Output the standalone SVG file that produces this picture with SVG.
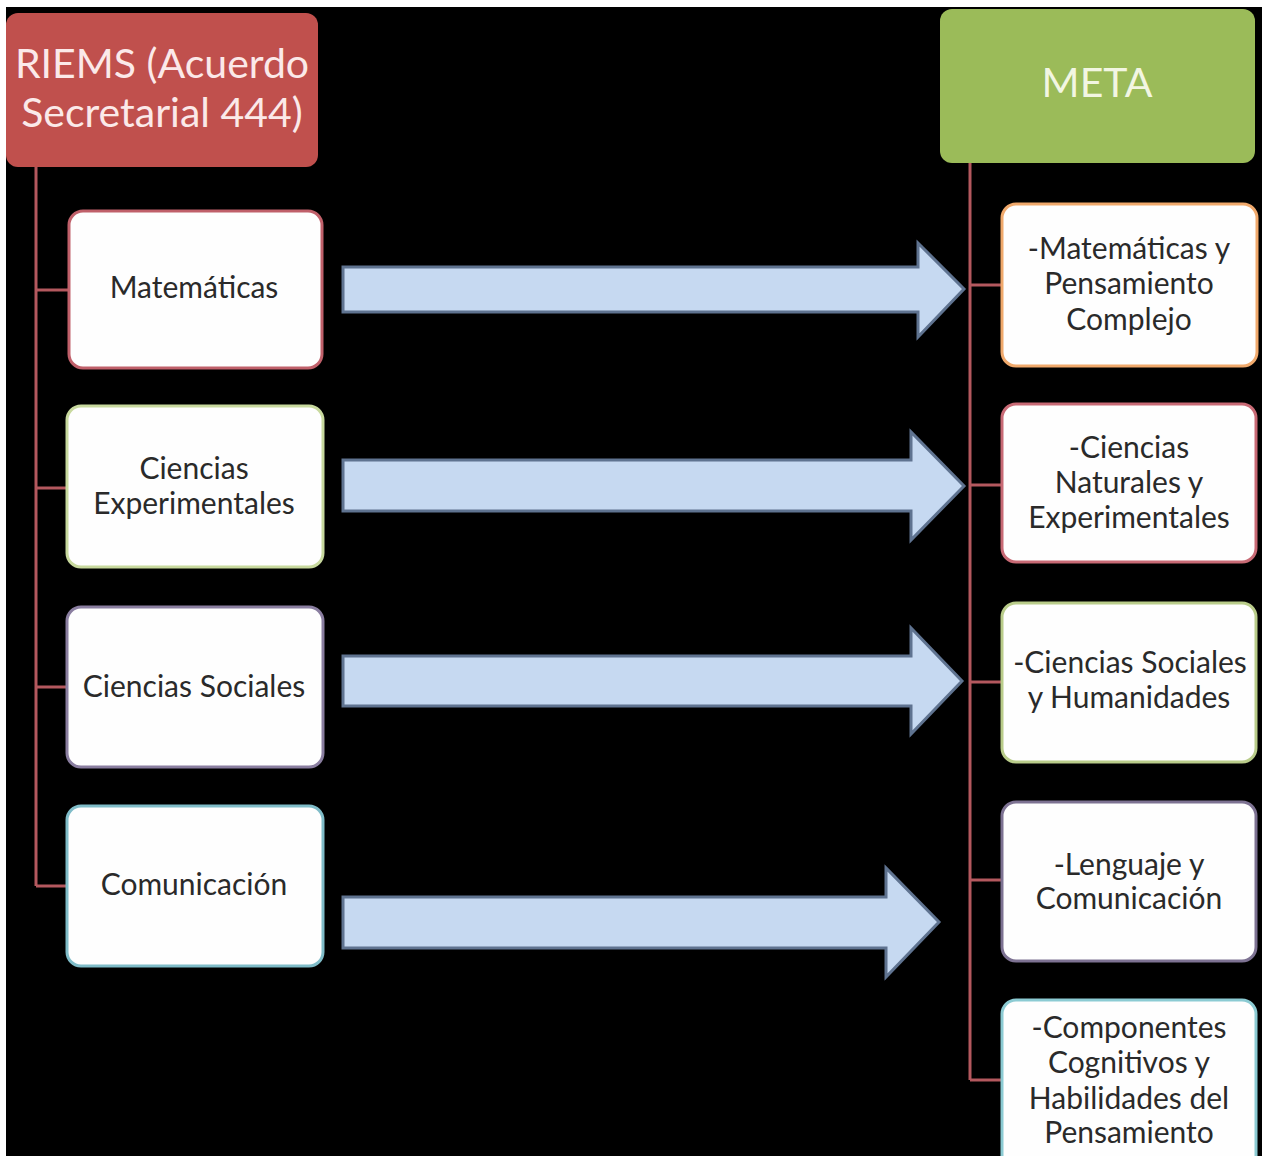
<svg xmlns="http://www.w3.org/2000/svg" width="1262" height="1156" viewBox="0 0 1262 1156">
<style>
.t{font-family:Lato,"Open Sans","Liberation Sans",sans-serif;fill:#2a2a2a;text-anchor:middle}
.s{font-size:30px}
.h{font-size:41px}
.box{fill:#fefefe;stroke-width:3}
.conn{stroke:#b4585e;stroke-width:3;fill:none}
.arr{fill:#c6d9f1;stroke:#5f7390;stroke-width:3;stroke-linejoin:miter}
</style>
<rect x="0" y="0" width="1262" height="1156" fill="#000"/>
<rect x="0" y="0" width="1262" height="7" fill="#fff"/>
<rect x="0" y="0" width="6" height="1156" fill="#fff"/>

<g id="connectors">
<path class="conn" d="M36 167 V886 M36 290 H68 M36 488 H66 M36 687 H66 M36 886 H66"/>
<path class="conn" d="M970 163 V1080 M970 285 H1002 M970 485 H1002 M970 682 H1002 M970 880 H1002 M970 1080 H1002"/>
<path class="arr" d="M343 267 H918 V243 L964 289 L918 337 V312 H343 Z"/>
<path class="arr" d="M343 460 H911 V432 L964 486 L911 540 V511 H343 Z"/>
<path class="arr" d="M343 656 H911 V628 L962 681 L911 734 V706 H343 Z"/>
<path class="arr" d="M343 897 H886 V868 L939 922 L886 977 V948 H343 Z"/>
</g>

<g id="riems">
<rect x="6" y="13" width="312" height="154" rx="12" fill="#c0504d"/>
<text class="t h" x="162" y="78" style="fill:#fbe9e9">RIEMS (Acuerdo</text>
<text class="t h" x="162" y="127" style="fill:#fbe9e9">Secretarial 444)</text>
</g>

<g id="meta">
<rect x="940" y="9" width="315" height="154" rx="12" fill="#9bbb59"/>
<text class="t h" x="1097" y="97" style="fill:#f2f6e2">META</text>
</g>

<g id="matematicas">
<rect class="box" x="69" y="211" width="253" height="157" rx="14" stroke="#c0606a"/>
<text class="t s" x="194" y="298">Matemáticas</text>
</g>
<g id="ciencias-exp">
<rect class="box" x="67" y="406" width="256" height="161" rx="14" stroke="#c8d99e"/>
<text class="t s" x="194" y="479">Ciencias</text>
<text class="t s" x="194" y="514">Experimentales</text>
</g>
<g id="ciencias-soc">
<rect class="box" x="67" y="607" width="256" height="160" rx="14" stroke="#8a7ea0"/>
<text class="t s" x="194" y="697">Ciencias Sociales</text>
</g>
<g id="comunicacion">
<rect class="box" x="67" y="806" width="256" height="160" rx="14" stroke="#7fbcc8"/>
<text class="t s" x="194" y="895">Comunicación</text>
</g>

<g id="meta-mat">
<rect class="box" x="1002" y="204" width="255" height="162" rx="14" stroke="#f0a96c"/>
<text class="t s" x="1129" y="259">-Matemáticas y</text>
<text class="t s" x="1129" y="294">Pensamiento</text>
<text class="t s" x="1129" y="330">Complejo</text>
</g>
<g id="meta-cien">
<rect class="box" x="1002" y="404" width="254" height="158" rx="14" stroke="#c86a75"/>
<text class="t s" x="1129" y="458">-Ciencias</text>
<text class="t s" x="1129" y="493">Naturales y</text>
<text class="t s" x="1129" y="528">Experimentales</text>
</g>
<g id="meta-soc">
<rect class="box" x="1002" y="603" width="254" height="159" rx="14" stroke="#b9cc8a"/>
<text class="t s" x="1130" y="673">-Ciencias Sociales</text>
<text class="t s" x="1129" y="708">y Humanidades</text>
</g>
<g id="meta-len">
<rect class="box" x="1002" y="802" width="254" height="159" rx="14" stroke="#7d7292"/>
<text class="t s" x="1129" y="875">-Lenguaje y</text>
<text class="t s" x="1129" y="909">Comunicación</text>
</g>
<g id="meta-comp">
<rect class="box" x="1002" y="1000" width="254" height="170" rx="14" stroke="#8ccbd3"/>
<text class="t s" x="1129" y="1038">-Componentes</text>
<text class="t s" x="1129" y="1073">Cognitivos y</text>
<text class="t s" x="1129" y="1109">Habilidades del</text>
<text class="t s" x="1129" y="1143">Pensamiento</text>
</g>
</svg>
